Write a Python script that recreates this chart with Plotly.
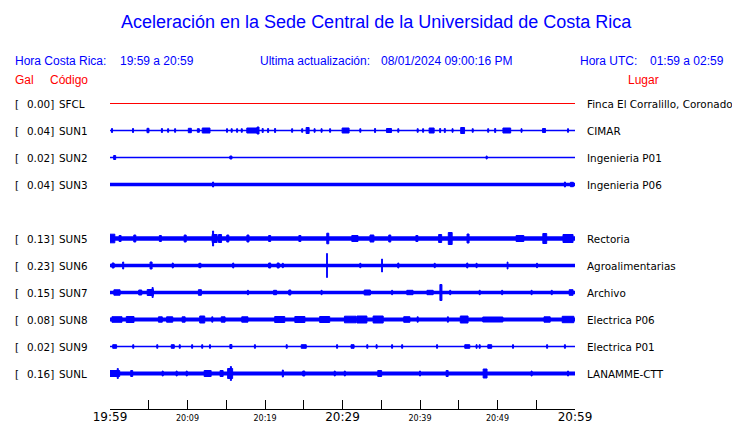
import plotly.graph_objects as go

# ---------------- data ----------------
codes = ["SFCL", "SUN1", "SUN2", "SUN3", "SUN5", "SUN6", "SUN7", "SUN8", "SUN9", "SUNL"]
peak_gal = ["0.00", "0.04", "0.02", "0.04", "0.13", "0.23", "0.15", "0.08", "0.02", "0.16"]
places = ["Finca El Corralillo, Coronado", "CIMAR", "Ingenieria P01", "Ingenieria P06",
          "Rectoria", "Agroalimentarias", "Archivo", "Electrica P06", "Electrica P01", "LANAMME-CTT"]
row_index = [0, 1, 2, 3, 5, 6, 7, 8, 9, 10]
trace_color = ["#ff0000"] + ["#0000ff"] * 9

# background noise half-amplitude of each record (display units)
base_amp = [0.5, 0.7, 0.7, 1.7, 2.3, 1.7, 1.7, 2.0, 0.7, 2.0]

# bursts read from the records: (minute after 19:59, duration in minutes, half-amplitude)
bursts = {
    "SFCL": [],
    "SUN1": [(0.26, 0.13, 2), (2.97, 0.13, 2), (4.9, 0.26, 2.2), (6.7, 0.13, 2), (7.5, 0.13, 1.8),
             (8.4, 0.13, 1.8), (10.3, 0.39, 2.2), (11.4, 0.26, 1.8), (12.4, 1.0, 2.5), (15.1, 0.13, 1.8),
             (15.7, 0.13, 1.8), (16.4, 0.13, 1.8), (17.0, 0.13, 1.8), (18.4, 1.5, 2.5), (19.1, 0.26, 3.5),
             (19.7, 0.13, 2), (20.4, 0.13, 2), (21.3, 0.13, 2), (23.5, 0.13, 1.8), (24.8, 0.13, 1.8),
             (25.5, 0.39, 3), (26.4, 0.13, 1.8), (27.3, 0.13, 1.8), (28.4, 0.13, 1.8), (30.4, 0.9, 2.5),
             (32.3, 0.13, 1.8), (34.2, 0.13, 2), (36.0, 0.65, 2), (37.2, 0.13, 1.8), (39.7, 0.13, 1.8),
             (40.4, 0.13, 1.8), (41.5, 0.65, 2.5), (42.6, 0.13, 2), (43.2, 0.13, 2), (44.2, 0.13, 1.8),
             (45.5, 0.5, 3), (46.8, 0.13, 1.8), (48.8, 0.13, 1.8), (49.7, 0.13, 2), (51.2, 1.0, 2.5),
             (53.1, 0.13, 1.8), (56.0, 0.39, 2), (59.1, 0.13, 1.8)],
    "SUN2": [(0.6, 0.26, 2), (15.6, 0.26, 1.5), (48.6, 0.13, 1.5)],
    "SUN3": [(13.3, 0.13, 2.5), (58.7, 0.13, 2.5), (59.6, 0.39, 2.2)],
    "SUN5": [(0.3, 0.65, 4.3), (1.3, 0.26, 3), (3.2, 0.26, 3.5), (6.5, 0.26, 3), (9.7, 0.26, 3.5),
             (13.5, 0.65, 4), (13.3, 0.13, 7.5), (14.2, 0.39, 4), (15.2, 0.26, 3.5), (17.8, 0.26, 3.5),
             (20.6, 0.26, 3), (24.5, 0.26, 3), (28.1, 0.26, 5.3), (31.6, 0.8, 3), (33.8, 0.5, 3.5),
             (36.1, 0.26, 3.5), (39.6, 0.26, 3), (42.6, 0.39, 4), (43.9, 0.5, 6), (46.2, 0.26, 4.5),
             (52.9, 1.0, 3), (56.1, 0.5, 5), (59.1, 1.3, 4)],
    "SUN6": [(0.4, 0.26, 2.5), (1.7, 0.13, 3.5), (5.3, 0.26, 3.5), (8.1, 0.13, 2.5), (11.6, 0.26, 2.2),
             (15.9, 0.13, 2.5), (20.6, 0.26, 2.5), (21.7, 0.26, 2.5), (22.3, 0.13, 2.2), (28.0, 0.1, 12),
             (32.3, 0.13, 2.2), (35.1, 0.1, 6.5), (37.2, 0.13, 2.5), (41.9, 0.13, 2.2), (46.1, 0.13, 2.5),
             (47.3, 0.13, 2.2), (51.3, 0.1, 3.5), (55.1, 0.13, 2.2)],
    "SUN7": [(0.9, 0.8, 2.7), (3.9, 0.39, 2.5), (5.2, 0.8, 3), (5.5, 0.13, 5), (11.6, 0.39, 2.8),
             (17.8, 0.13, 2.2), (21.3, 0.39, 2.2), (23.2, 0.26, 2.5), (27.3, 0.13, 2.2), (33.2, 0.8, 2.5),
             (36.4, 0.13, 2.2), (38.7, 0.8, 2.2), (41.3, 0.8, 2.2), (42.7, 0.26, 8), (43.9, 0.13, 2.2),
             (47.7, 0.13, 2.2), (50.6, 0.13, 2.2), (54.4, 0.13, 2.2), (57.0, 0.13, 2.2), (59.5, 0.5, 2.8)],
    "SUN8": [(0.9, 1.3, 2.8), (2.6, 1.0, 3), (6.5, 0.5, 2.7), (7.7, 0.8, 2.7), (9.5, 0.39, 2.7),
             (11.9, 0.65, 3.5), (13.2, 0.13, 2.7), (14.6, 0.5, 2.7), (17.4, 0.8, 2.7), (21.9, 1.3, 3),
             (24.5, 1.3, 3), (27.7, 1.3, 3), (31.0, 1.5, 3.3), (32.5, 1.3, 3.5), (34.6, 1.3, 3.5),
             (38.3, 0.8, 2.8), (39.7, 0.13, 2.7), (43.6, 0.13, 2.7), (45.7, 1.0, 3.5), (49.4, 2.6, 2.5),
             (56.4, 0.8, 2.7), (59.1, 1.5, 3.2)],
    "SUN9": [(0.6, 0.5, 1.8), (3.0, 0.13, 1.8), (6.1, 0.13, 1.8), (8.1, 0.39, 1.8), (9.0, 0.13, 1.8),
             (10.6, 0.13, 1.8), (11.9, 0.13, 1.8), (12.9, 0.13, 1.8), (15.6, 0.26, 2), (18.7, 0.13, 1.8),
             (22.8, 0.13, 1.8), (25.0, 0.65, 1.8), (29.3, 0.13, 1.8), (31.3, 0.39, 1.8), (33.2, 0.13, 1.8),
             (34.4, 0.13, 1.8), (36.4, 0.13, 1.8), (37.7, 0.13, 1.8), (42.2, 0.13, 1.8), (46.1, 0.65, 1.8),
             (47.3, 0.13, 1.8), (47.7, 0.13, 1.8), (49.0, 0.5, 1.8), (52.0, 0.13, 1.8), (56.4, 0.13, 1.8),
             (58.7, 0.13, 1.8)],
    "SUNL": [(0.6, 1.3, 3), (1.0, 0.13, 5), (2.8, 0.26, 3), (6.8, 0.13, 2.5), (8.6, 0.13, 2.5),
             (9.9, 0.13, 2.5), (12.6, 0.9, 3), (14.4, 0.39, 3), (15.5, 0.65, 5), (15.6, 0.13, 7),
             (22.3, 0.13, 3.5), (25.0, 0.26, 2.5), (29.0, 0.13, 2.5), (30.3, 0.13, 2.5), (34.8, 0.5, 3),
             (40.0, 0.13, 2.5), (43.5, 0.26, 3), (48.4, 0.5, 4.5), (54.4, 0.13, 2.5), (59.1, 0.13, 2.5)],
}

tick_minutes = list(range(0, 61, 5))
tick_labels = ["19:59", "", "20:09", "", "20:19", "", "20:29", "", "20:39", "", "20:49", "", "20:59"]
major_labels = ["19:59", "20:29", "20:59"]

title_text = "Aceleración en la Sede Central de la Universidad de Costa Rica"
local_time = ("Hora Costa Rica:", "19:59 a 20:59")
updated = ("Ultima actualización:", "08/01/2024 09:00:16 PM")
utc_time = ("Hora UTC:", "01:59 a 02:59")

# ---------------- layout geometry ----------------
W, H = 740, 423
OFF = 8                      # page body margin of the browser
PLOT_L, PLOT_R = 110, 575    # plot area in screen pixels
PLOT_T, PLOT_B = 90, 409
ML = PLOT_L - OFF
MR = W - (PLOT_R - OFF)
MT = PLOT_T - OFF
MB = H - (PLOT_B - OFF)
PW, PH = PLOT_R - PLOT_L, PLOT_B - PLOT_T
ROW_PX = 27.0           # vertical distance between records
FIRST_ROW_PX = 103.5    # screen pixel centre of first record
AMP_SCALE = 1.0 / ROW_PX

y_top = (PLOT_T - FIRST_ROW_PX) / ROW_PX
y_bot = (PLOT_B - FIRST_ROW_PX) / ROW_PX


def px(xp):
    return (xp - PLOT_L) / PW


def py(yp):
    return (PLOT_B - yp) / PH


fig = go.Figure()

for i, code in enumerate(codes):
    r = row_index[i]
    col = trace_color[i]
    fig.add_trace(go.Scatter(
        x=[0, 60], y=[r, r], mode="lines",
        line=dict(color=col, width=max(1.0, 2 * base_amp[i])),
        hoverinfo="skip", showlegend=False))
    xs, ys = [], []
    for (t, d, a) in bursts[code]:
        x0, x1 = t - d / 2, t + d / 2
        h = a * AMP_SCALE
        xs += [x0, x1, x1, x0, x0, None]
        ys += [r - h, r - h, r + h, r + h, r - h, None]
    if xs:
        fig.add_trace(go.Scatter(
            x=xs, y=ys, mode="lines", fill="toself", fillcolor=col,
            line=dict(color=col, width=1), hoverinfo="skip", showlegend=False))

tick_text = []
for lab in tick_labels:
    if lab == "":
        tick_text.append("")
    elif lab in major_labels:
        tick_text.append(lab)
    else:
        tick_text.append('<span style="font-size:8px">' + lab + '</span>')

fig.update_layout(
    width=W, height=H,
    margin=dict(l=ML, r=MR, t=MT, b=MB, pad=0, autoexpand=False),
    paper_bgcolor="white", plot_bgcolor="white",
    showlegend=False,
    xaxis=dict(range=[0, 60], showgrid=False, zeroline=False, automargin=False,
               showline=True, linecolor="black", linewidth=1,
               ticks="inside", ticklen=9, tickwidth=1, tickcolor="black",
               tickvals=tick_minutes, ticktext=tick_text, ticklabelstandoff=-3,
               tickfont=dict(family="DejaVu Sans", size=12, color="black"),
               fixedrange=True),
    yaxis=dict(range=[y_bot, y_top], visible=False, fixedrange=True, automargin=False),
)

ann = []
blue, red = "#0000ff", "#ff0000"
hdr = "Liberation Sans"


def add(text, xp, yp, color, size, family, xanchor="left"):
    ann.append(dict(text=text, x=px(xp), y=py(yp), xref="paper", yref="paper",
                    xanchor=xanchor, yanchor="middle", showarrow=False,
                    font=dict(family=family, size=size, color=color)))


add(title_text, 376, 22, blue, 18, hdr, "center")
add(local_time[0], 13, 61, blue, 12, hdr)
add(local_time[1], 118, 61, blue, 12, hdr)
add(updated[0], 258, 61, blue, 12, hdr)
add(updated[1], 379, 61, blue, 12, hdr)
add(utc_time[0], 578, 61, blue, 12, hdr)
add(utc_time[1], 648, 61, blue, 12, hdr)
add("Gal", 13, 80, red, 12, hdr)
add("Código", 48, 80, red, 12, hdr)
add("Lugar", 626, 80, red, 12, hdr)

for i, code in enumerate(codes):
    r = row_index[i]
    yp = FIRST_ROW_PX + r * ROW_PX
    add("[", 13, yp, "black", 10.4, "DejaVu Sans")
    add(peak_gal[i] + "]", 25, yp, "black", 10.4, "DejaVu Sans")
    add(code, 57, yp, "black", 10.4, "DejaVu Sans")
    add(places[i], 585, yp, "black", 10.4, "DejaVu Sans")

fig.update_layout(annotations=ann)
fig.write_html("out.html")
